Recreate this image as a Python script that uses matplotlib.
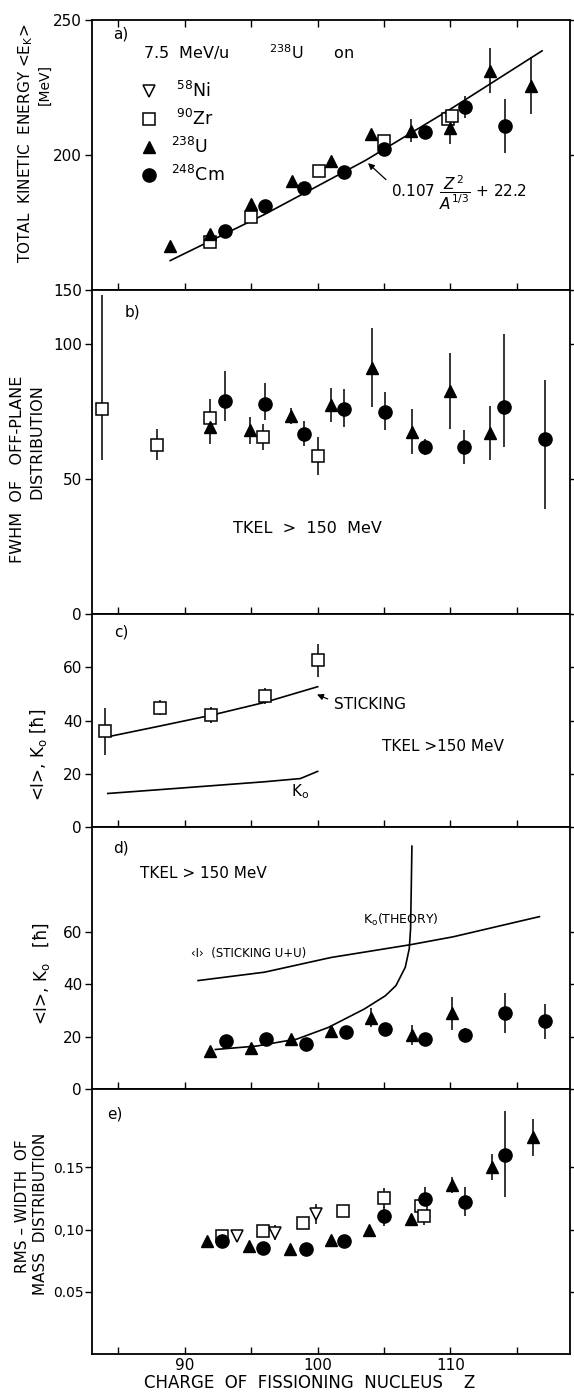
import matplotlib
matplotlib.use('Agg')
import matplotlib.pyplot as plt
from matplotlib.lines import Line2D

plt.rcParams['font.family'] = ['DejaVu Sans']
plt.rcParams['mathtext.fontset'] = 'dejavusans'

# ---- panel a: total kinetic energy ----
a_u_z = [88.9, 91.9, 95.0, 98.1, 101.0, 104.0, 107.0, 110.0, 113.0, 116.1]
a_u_e = [166.4, 170.7, 181.9, 190.5, 197.9, 207.8, 209.0, 210.2, 231.2, 225.7]
a_u_err = [0, 0, 0, 0, 0, 0, 4.3, 6.0, 8.3, 10.5]
a_cm_z = [93.0, 96.0, 99.0, 102.0, 105.0, 108.1, 111.1, 114.1]
a_cm_e = [171.7, 181.0, 187.8, 193.8, 202.2, 208.4, 217.9, 210.9]
a_cm_err = [0, 0, 0, 0, 0, 2.0, 4.0, 10.0]
a_zr_z = [91.9, 95.0, 100.1, 105.0, 109.8, 110.1]
a_zr_e = [167.7, 176.9, 194.0, 205.1, 213.4, 214.6]
fit_z = [88.9, 96.0, 103.6, 110.0, 116.9]
fit_e = [160.9, 178.0, 198.0, 217.0, 238.6]

# ---- panel b: FWHM of off-plane distribution ----
b_zr_z = [83.8, 87.9, 91.9, 95.9, 100.0]
b_zr_w = [75.9, 62.5, 72.6, 65.6, 58.5]
b_zr_lo = [18.7, 5.6, 3.0, 4.8, 7.0]
b_zr_hi = [42.3, 5.9, 7.2, 4.8, 7.0]
b_u_z = [91.9, 94.9, 98.0, 101.0, 104.1, 107.1, 110.0, 113.0]
b_u_w = [69.1, 68.1, 73.3, 77.4, 91.3, 67.5, 82.5, 67.1]
b_u_err = [6.0, 5.0, 3.0, 6.3, 14.7, 8.4, 14.0, 10.0]
b_cm_z = [93.0, 96.0, 99.0, 102.0, 105.1, 108.1, 111.0, 114.0, 117.1]
b_cm_w = [78.8, 77.7, 66.6, 75.9, 74.9, 61.9, 61.9, 76.5, 65.0]
b_cm_lo = [7.4, 5.9, 4.5, 6.8, 6.6, 3.0, 6.3, 14.6, 26.0]
b_cm_hi = [11.3, 7.9, 4.8, 7.5, 7.5, 3.0, 6.3, 27.2, 21.6]

# ---- panel c: spin, Zr target ----
c_zr_z = [84.0, 88.1, 92.0, 96.0, 100.0]
c_zr_i = [35.9, 44.8, 42.1, 49.3, 62.6]
c_zr_err = [8.7, 2.8, 3.0, 3.0, 6.3]
stick_z = [84.3, 88.0, 92.0, 96.0, 100.0]
stick_i = [34.0, 37.8, 42.0, 46.8, 52.7]
k0_z = [84.2, 88.0, 92.0, 96.0, 98.7, 100.0]
k0_v = [12.6, 14.0, 15.5, 17.0, 18.2, 20.9]

# ---- panel d: spin, U and Cm targets ----
d_u_z = [91.9, 95.0, 98.0, 101.0, 104.0, 107.1, 110.1]
d_u_v = [14.5, 15.5, 19.2, 22.2, 27.3, 20.6, 29.0]
d_u_err = [0, 0, 0, 0, 3.8, 3.7, 6.3]
d_cm_z = [93.1, 96.1, 99.1, 102.1, 105.1, 108.1, 111.1, 114.1, 117.1]
d_cm_v = [18.3, 19.0, 17.1, 21.8, 22.8, 19.0, 20.6, 29.0, 25.8]
d_cm_err = [1.5, 0, 0, 0, 0, 0, 2.7, 7.7, 6.7]
uu_z = [91.0, 96.0, 101.0, 107.0, 110.2, 116.7]
uu_i = [41.4, 44.6, 50.2, 55.1, 58.1, 65.8]
k0th_z = [92.3, 95.4, 97.3, 98.4, 100.8, 103.5, 105.1, 105.9, 106.6, 106.9, 107.0, 107.1]
k0th_v = [15.1, 16.4, 18.1, 19.0, 23.5, 30.5, 35.6, 39.5, 46.5, 53.6, 61.3, 92.7]

# ---- panel e: rms width of mass distribution ----
e_u_z = [91.7, 94.8, 97.9, 101.0, 103.9, 107.0, 110.1, 113.1, 116.2]
e_u_w = [0.0907, 0.0868, 0.0847, 0.0913, 0.0995, 0.1087, 0.1357, 0.1503, 0.1741]
e_u_err = [0, 0, 0, 0, 0, 0, 0.0066, 0.0106, 0.015]
e_cm_z = [92.8, 95.9, 99.1, 102.0, 105.0, 108.1, 111.1, 114.1]
e_cm_w = [0.0907, 0.0849, 0.0841, 0.0907, 0.1106, 0.1246, 0.1225, 0.1603]
e_cm_lo = [0, 0, 0, 0, 0.0075, 0.01, 0.0115, 0.0338]
e_cm_hi = [0, 0, 0, 0, 0.0075, 0.01, 0.0115, 0.0349]
e_zr_z = [92.8, 95.9, 98.9, 101.9, 105.0, 107.8, 108.0]
e_zr_w = [0.0952, 0.0987, 0.1053, 0.1146, 0.1251, 0.1190, 0.1111]
e_zr_err = [0, 0, 0, 0, 0.008, 0, 0.0075]
e_ni_z = [93.9, 96.8, 99.9]
e_ni_w = [0.0947, 0.0974, 0.1127]
e_ni_err = [0, 0.006, 0.008]

x_ticks = [85, 90, 95, 100, 105, 110, 115]

tri = dict(marker='^', ms=9, mfc='k', mec='k', ls='none', zorder=4)
dot = dict(marker='o', ms=9.5, mfc='k', mec='k', ls='none', zorder=5)
sq = dict(marker='s', ms=8, mfc='white', mec='k', mew=1.1, ls='none', zorder=3)
ntri = dict(marker='v', ms=9, mfc='white', mec='k', mew=1.1, ls='none', zorder=3)
ebar = dict(fmt='none', ecolor='k', elinewidth=1.1, capsize=0, zorder=2)
arrow = dict(arrowstyle='-|>', color='k', lw=0.9, mutation_scale=9)

fig = plt.figure(figsize=(5.74, 13.93), dpi=100)
left, width = 0.160, 0.833
ax_a = fig.add_axes([left, 0.7918, width, 0.1938])
ax_b = fig.add_axes([left, 0.5592, width, 0.2326])
ax_c = fig.add_axes([left, 0.4063, width, 0.1529])
ax_d = fig.add_axes([left, 0.2182, width, 0.1881])
ax_e = fig.add_axes([left, 0.0280, width, 0.1902])

for ax in [ax_a, ax_b, ax_c, ax_d, ax_e]:
    ax.set_xlim(83, 119)
    ax.set_xticks(x_ticks)
    ax.tick_params(axis='x', direction='in', length=5, width=1, labelbottom=False)
    ax.tick_params(axis='y', direction='out', length=5, width=1, labelsize=11,
                   right=True, pad=2)
    for s in ax.spines.values():
        s.set_linewidth(1.3)

ax_a.tick_params(axis='x', top=True)

# a)
ax_a.errorbar(a_u_z, a_u_e, yerr=a_u_err, **ebar)
ax_a.errorbar(a_cm_z, a_cm_e, yerr=a_cm_err, **ebar)
ax_a.plot(fit_z, fit_e, color='k', lw=1.2, zorder=1)
ax_a.plot(a_zr_z, a_zr_e, **sq)
ax_a.plot(a_u_z, a_u_e, **tri)
ax_a.plot(a_cm_z, a_cm_e, **dot)
ax_a.set_ylim(150, 250)
ax_a.set_yticks([150, 200, 250])
ax_a.text(0.044, 0.948, 'a)', transform=ax_a.transAxes, fontsize=11, va='center')
ax_a.text(0.107, 0.88, '7.5  MeV/u        $^{238}$U      on', transform=ax_a.transAxes,
          fontsize=11.5, va='center')
handles = [Line2D([], [], **ntri), Line2D([], [], **sq), Line2D([], [], **tri),
           Line2D([], [], **dot)]
labels = [' $^{58}$Ni', ' $^{90}$Zr', '$^{238}$U', '$^{248}$Cm']
ax_a.legend(handles, labels, loc='upper left', bbox_to_anchor=(0.102, 0.775),
            frameon=False, handlelength=1.0, handletextpad=0.75, labelspacing=0.45,
            fontsize=12.5, borderaxespad=0, borderpad=0)
ax_a.text(105.5, 186.0, r'0.107 $\dfrac{Z^{\,2}}{A^{1/3}}$ + 22.2', fontsize=11,
          va='center')
ax_a.annotate('', xy=(103.64, 197.7), xytext=(105.3, 190.2), arrowprops=arrow)

# b)
ax_b.errorbar(b_zr_z, b_zr_w, yerr=[b_zr_lo, b_zr_hi], **ebar)
ax_b.errorbar(b_u_z, b_u_w, yerr=b_u_err, **ebar)
ax_b.errorbar(b_cm_z, b_cm_w, yerr=[b_cm_lo, b_cm_hi], **ebar)
ax_b.plot(b_zr_z, b_zr_w, **sq)
ax_b.plot(b_u_z, b_u_w, **tri)
ax_b.plot(b_cm_z, b_cm_w, **dot)
ax_b.set_ylim(0, 120)
ax_b.set_yticks([0, 50, 100])
ax_b.text(0.069, 0.933, 'b)', transform=ax_b.transAxes, fontsize=11, va='center')
ax_b.text(0.45, 0.263, 'TKEL  >  150  MeV', transform=ax_b.transAxes, fontsize=11.5,
          ha='center', va='center')

# c)
ax_c.errorbar(c_zr_z, c_zr_i, yerr=c_zr_err, **ebar)
ax_c.plot(stick_z, stick_i, color='k', lw=1.2, zorder=1)
ax_c.plot(k0_z, k0_v, color='k', lw=1.2, zorder=1)
ax_c.plot(c_zr_z, c_zr_i, **sq)
ax_c.set_ylim(0, 80)
ax_c.set_yticks([0, 20, 40, 60])
ax_c.text(0.047, 0.915, 'c)', transform=ax_c.transAxes, fontsize=11, va='center')
ax_c.text(101.2, 46.0, 'STICKING', fontsize=11, va='center')
ax_c.annotate('', xy=(99.76, 50.2), xytext=(100.95, 47.7), arrowprops=arrow)
ax_c.text(0.606, 0.379, 'TKEL >150 MeV', transform=ax_c.transAxes, fontsize=11, va='center')
ax_c.text(98.0, 13.2, 'K$_\\mathrm{o}$', fontsize=11, va='center')

# d)
ax_d.errorbar(d_u_z, d_u_v, yerr=d_u_err, **ebar)
ax_d.errorbar(d_cm_z, d_cm_v, yerr=d_cm_err, **ebar)
ax_d.plot(uu_z, uu_i, color='k', lw=1.2, zorder=1)
ax_d.plot(k0th_z, k0th_v, color='k', lw=1.2, zorder=1)
ax_d.plot(d_u_z, d_u_v, **tri)
ax_d.plot(d_cm_z, d_cm_v, **dot)
ax_d.set_ylim(0, 100)
ax_d.set_yticks([0, 20, 40, 60])
ax_d.text(0.044, 0.92, 'd)', transform=ax_d.transAxes, fontsize=11, va='center')
ax_d.text(0.10, 0.824, 'TKEL > 150 MeV', transform=ax_d.transAxes, fontsize=11, va='center')
ax_d.text(103.4, 64.5, 'K$_\\mathrm{o}$(THEORY)', fontsize=9, va='center')
ax_d.text(90.5, 51.7, '‹I›  (STICKING U+U)', fontsize=8.5, va='center')

# e)
ax_e.errorbar(e_u_z, e_u_w, yerr=e_u_err, **ebar)
ax_e.errorbar(e_cm_z, e_cm_w, yerr=[e_cm_lo, e_cm_hi], **ebar)
ax_e.errorbar(e_zr_z, e_zr_w, yerr=e_zr_err, **ebar)
ax_e.errorbar(e_ni_z, e_ni_w, yerr=e_ni_err, **ebar)
ax_e.plot(e_zr_z, e_zr_w, **sq)
ax_e.plot(e_ni_z, e_ni_w, **ntri)
ax_e.plot(e_u_z, e_u_w, **tri)
ax_e.plot(e_cm_z, e_cm_w, **dot)
ax_e.set_ylim(0, 0.213)
ax_e.set_yticks([0.05, 0.10, 0.15])
ax_e.set_yticklabels(['0.05', '0,10', '0.15'])
ax_e.tick_params(axis='y', labelsize=10, pad=1)
ax_e.tick_params(axis='x', labelbottom=True, labelsize=11, pad=3)
ax_e.set_xticks(x_ticks)
ax_e.set_xticklabels(['', '90', '', '100', '', '110', ''])
ax_e.text(0.033, 0.905, 'e)', transform=ax_e.transAxes, fontsize=11, va='center')
fig.text(0.54, 0.0075, 'CHARGE  OF  FISSIONING  NUCLEUS    Z', fontsize=12,
         ha='center', va='center')

# y axis titles
fig.text(0.045, 0.897, 'TOTAL  KINETIC  ENERGY <E$_\\mathrm{K}$>', rotation=90,
         fontsize=11, ha='center', va='center')
fig.text(0.077, 0.939, '[MeV]', rotation=90, fontsize=10, ha='center', va='center')
fig.text(0.031, 0.663, 'FWHM  OF   OFF-PLANE', rotation=90, fontsize=11.5,
         ha='center', va='center')
fig.text(0.065, 0.683, 'DISTRIBUTION', rotation=90, fontsize=11.5, ha='center', va='center')
fig.text(0.067, 0.458, '<I>, K$_\\mathrm{o}$ [ħ]', rotation=90, fontsize=12,
         ha='center', va='center')
fig.text(0.072, 0.3015, '<I>, K$_\\mathrm{o}$   [ħ]', rotation=90, fontsize=12,
         ha='center', va='center')
fig.text(0.040, 0.134, 'RMS – WIDTH  OF', rotation=90, fontsize=11, ha='center', va='center')
fig.text(0.071, 0.1285, 'MASS  DISTRIBUTION', rotation=90, fontsize=11,
         ha='center', va='center')

fig.savefig('out.png', dpi=100)
